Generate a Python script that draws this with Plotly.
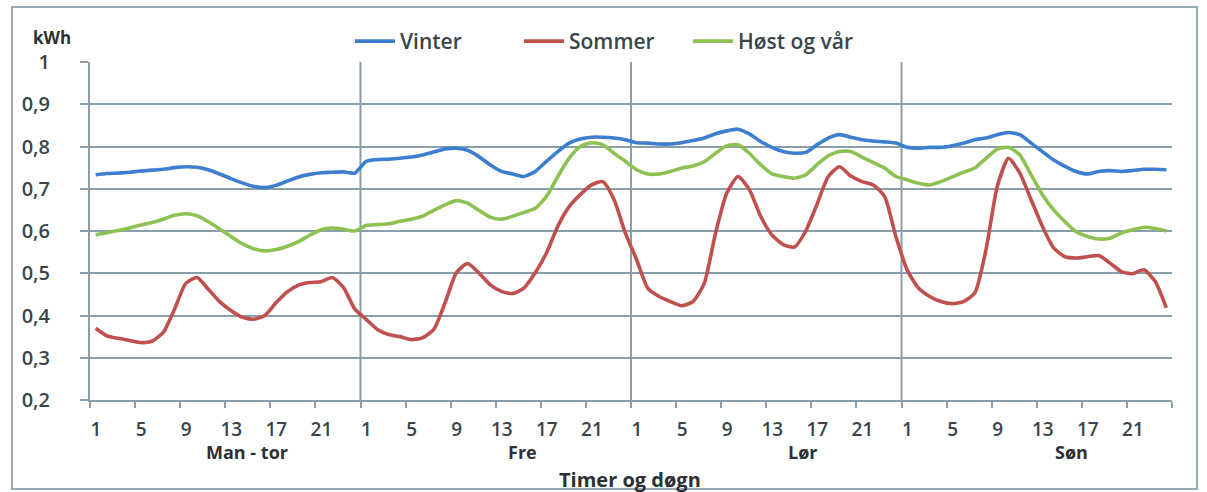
import plotly.graph_objects as go

# Average hourly consumption (kWh) per hour, four day groups of 24 hours
days = ["Man - tor", "Fre", "Lør", "Søn"]
hours = list(range(1, 25))

vinter = [
    # Man - tor
    0.733, 0.736, 0.737, 0.739, 0.742, 0.744, 0.746, 0.750, 0.752, 0.751, 0.745, 0.735,
    0.724, 0.714, 0.706, 0.703, 0.708, 0.718, 0.728, 0.734, 0.738, 0.739, 0.740, 0.737,
    # Fre
    0.765, 0.769, 0.770, 0.772, 0.775, 0.780, 0.787, 0.794, 0.796, 0.791, 0.776, 0.757,
    0.741, 0.735, 0.729, 0.741, 0.765, 0.788, 0.808, 0.818, 0.822, 0.822, 0.820, 0.816,
    # Lør
    0.809, 0.808, 0.806, 0.806, 0.809, 0.814, 0.820, 0.830, 0.837, 0.841, 0.830, 0.812,
    0.798, 0.788, 0.784, 0.786, 0.804, 0.820, 0.828, 0.822, 0.816, 0.813, 0.811, 0.808,
    # Søn
    0.798, 0.796, 0.798, 0.798, 0.802, 0.808, 0.816, 0.820, 0.828, 0.833, 0.828, 0.808,
    0.788, 0.768, 0.753, 0.741, 0.735, 0.741, 0.743, 0.741, 0.743, 0.746, 0.746, 0.745,
]

sommer = [
    # Man - tor
    0.370, 0.352, 0.346, 0.341, 0.336, 0.339, 0.360, 0.415, 0.476, 0.490, 0.462, 0.433,
    0.412, 0.396, 0.391, 0.400, 0.430, 0.456, 0.472, 0.478, 0.480, 0.490, 0.466, 0.415,
    # Fre
    0.391, 0.367, 0.355, 0.350, 0.343, 0.347, 0.367, 0.430, 0.501, 0.523, 0.501, 0.473,
    0.457, 0.452, 0.465, 0.501, 0.548, 0.611, 0.657, 0.686, 0.709, 0.717, 0.674, 0.595,
    # Lør
    0.532, 0.464, 0.445, 0.433, 0.423, 0.433, 0.476, 0.595, 0.690, 0.729, 0.698, 0.635,
    0.591, 0.568, 0.562, 0.600, 0.663, 0.729, 0.752, 0.730, 0.717, 0.709, 0.682, 0.587,
    # Søn
    0.508, 0.465, 0.445, 0.433, 0.428, 0.433, 0.453, 0.556, 0.706, 0.772, 0.737, 0.674,
    0.611, 0.560, 0.539, 0.536, 0.539, 0.542, 0.524, 0.504, 0.499, 0.508, 0.481, 0.418,
]

host_og_var = [
    # Man - tor
    0.591, 0.596, 0.601, 0.607, 0.614, 0.620, 0.628, 0.637, 0.641, 0.636, 0.622, 0.605,
    0.587, 0.570, 0.558, 0.553, 0.556, 0.564, 0.575, 0.590, 0.603, 0.607, 0.604, 0.600,
    # Fre
    0.613, 0.615, 0.617, 0.623, 0.628, 0.635, 0.649, 0.662, 0.672, 0.666, 0.649, 0.633,
    0.628, 0.635, 0.644, 0.654, 0.682, 0.729, 0.772, 0.800, 0.809, 0.804, 0.784, 0.765,
    # Lør
    0.745, 0.735, 0.735, 0.741, 0.749, 0.754, 0.764, 0.784, 0.802, 0.804, 0.784, 0.757,
    0.735, 0.729, 0.725, 0.733, 0.757, 0.778, 0.788, 0.788, 0.775, 0.762, 0.749, 0.729,
    # Søn
    0.721, 0.713, 0.709, 0.717, 0.728, 0.739, 0.749, 0.772, 0.794, 0.798, 0.780, 0.733,
    0.686, 0.650, 0.622, 0.598, 0.587, 0.581, 0.583, 0.595, 0.603, 0.609, 0.606, 0.600,
]

y_tick_values = [0.2, 0.3, 0.4, 0.5, 0.6, 0.7, 0.8, 0.9, 1.0]
y_tick_labels = ["0,2", "0,3", "0,4", "0,5", "0,6", "0,7", "0,8", "0,9", "1"]
hour_tick_labels = ["1", "5", "9", "13", "17", "21"]

n_hours = len(hours)
n_points = n_hours * len(days)
x_index = list(range(n_points))

AXIS_COL = "#8a9eab"
TEXT_COL = "#3a454b"
DARK_COL = "#2b3134"
FONT = "Open Sans"

series = [
    ("Vinter", vinter, "#3d7fce"),
    ("Sommer", sommer, "#c0504d"),
    ("Høst og vår", host_og_var, "#8dc253"),
]

fig = go.Figure()
for name, values, colour in series:
    fig.add_trace(go.Scatter(
        x=x_index, y=values, mode="lines", name=name,
        line=dict(color=colour, width=3.6, shape="spline", smoothing=0.6),
    ))

# Tick marks sit on category boundaries every fourth hour; labels shifted to centres
tick_vals, tick_text = [], []
for g in range(len(days)):
    for k, lab in enumerate(hour_tick_labels):
        tick_vals.append(g * n_hours + k * 4 - 0.5)
        tick_text.append(lab)
tick_vals.append(n_points - 0.5)
tick_text.append("")

fig.update_xaxes(
    range=[-0.5, n_points - 0.5],
    tickmode="array", tickvals=tick_vals, ticktext=tick_text,
    ticks="outside", ticklen=6, tickwidth=2, tickcolor=AXIS_COL,
    ticklabelshift=6, ticklabelstandoff=5,
    showgrid=False, zeroline=False,
    showline=True, linecolor=AXIS_COL, linewidth=2,
    tickfont=dict(family=FONT, size=19, color=TEXT_COL, weight=600),
)
fig.update_yaxes(
    range=[0.2, 1.0],
    tickmode="array", tickvals=y_tick_values, ticktext=y_tick_labels,
    ticks="outside", ticklen=8, tickwidth=2, tickcolor=AXIS_COL,
    showgrid=True, gridcolor=AXIS_COL, gridwidth=2,
    zeroline=False, showline=True, linecolor=AXIS_COL, linewidth=2,
    tickfont=dict(family=FONT, size=20, color=TEXT_COL, weight=600),
    ticklabelstandoff=26,
)

shapes = []
# day-group separators
for g in range(1, len(days)):
    xb = g * n_hours - 0.5
    shapes.append(dict(type="line", xref="x", yref="y", x0=xb, x1=xb, y0=0.2, y1=1.0,
                       line=dict(color=AXIS_COL, width=2), layer="below"))
# outer chart frame
shapes.append(dict(type="rect", xref="paper", yref="paper",
                   x0=-78 / 1082, x1=1107 / 1082, y0=-89 / 338, y1=(338 + 55) / 338,
                   line=dict(color="#9aaab5", width=2)))

annotations = []
day_label_x = [13.4, 37.9, 62.8, 86.6]
for d, xd in zip(days, day_label_x):
    annotations.append(dict(text=f"<b>{d}</b>", x=xd, y=0, xref="x", yref="paper",
                            yanchor="middle", xanchor="center", yshift=-52,
                            showarrow=False,
                            font=dict(family=FONT, size=18, color=DARK_COL)))
annotations.append(dict(text="<b>Timer og døgn</b>", x=0.5, y=0, xref="paper", yref="paper",
                        yanchor="middle", xanchor="center", yshift=-79, xshift=-1,
                        showarrow=False,
                        font=dict(family=FONT, size=20, color=DARK_COL)))
annotations.append(dict(text="<b>kWh</b>", x=0, y=1, xref="paper", yref="paper",
                        yanchor="middle", xanchor="center", xshift=-38, yshift=25,
                        showarrow=False,
                        font=dict(family=FONT, size=17, color=DARK_COL)))

fig.update_layout(
    width=1207, height=492,
    margin=dict(l=90, r=35, t=62, b=92),
    paper_bgcolor="white", plot_bgcolor="white",
    showlegend=True,
    legend=dict(orientation="h", x=(350 - 90) / 1082, xanchor="left",
                y=1.0, yanchor="bottom", entrywidth=114, entrywidthmode="pixels",
                font=dict(family=FONT, size=21, color=TEXT_COL, weight=600),
                itemwidth=40, tracegroupgap=0, bgcolor="rgba(0,0,0,0)"),
    shapes=shapes, annotations=annotations,
)

fig.write_html("out.html")
